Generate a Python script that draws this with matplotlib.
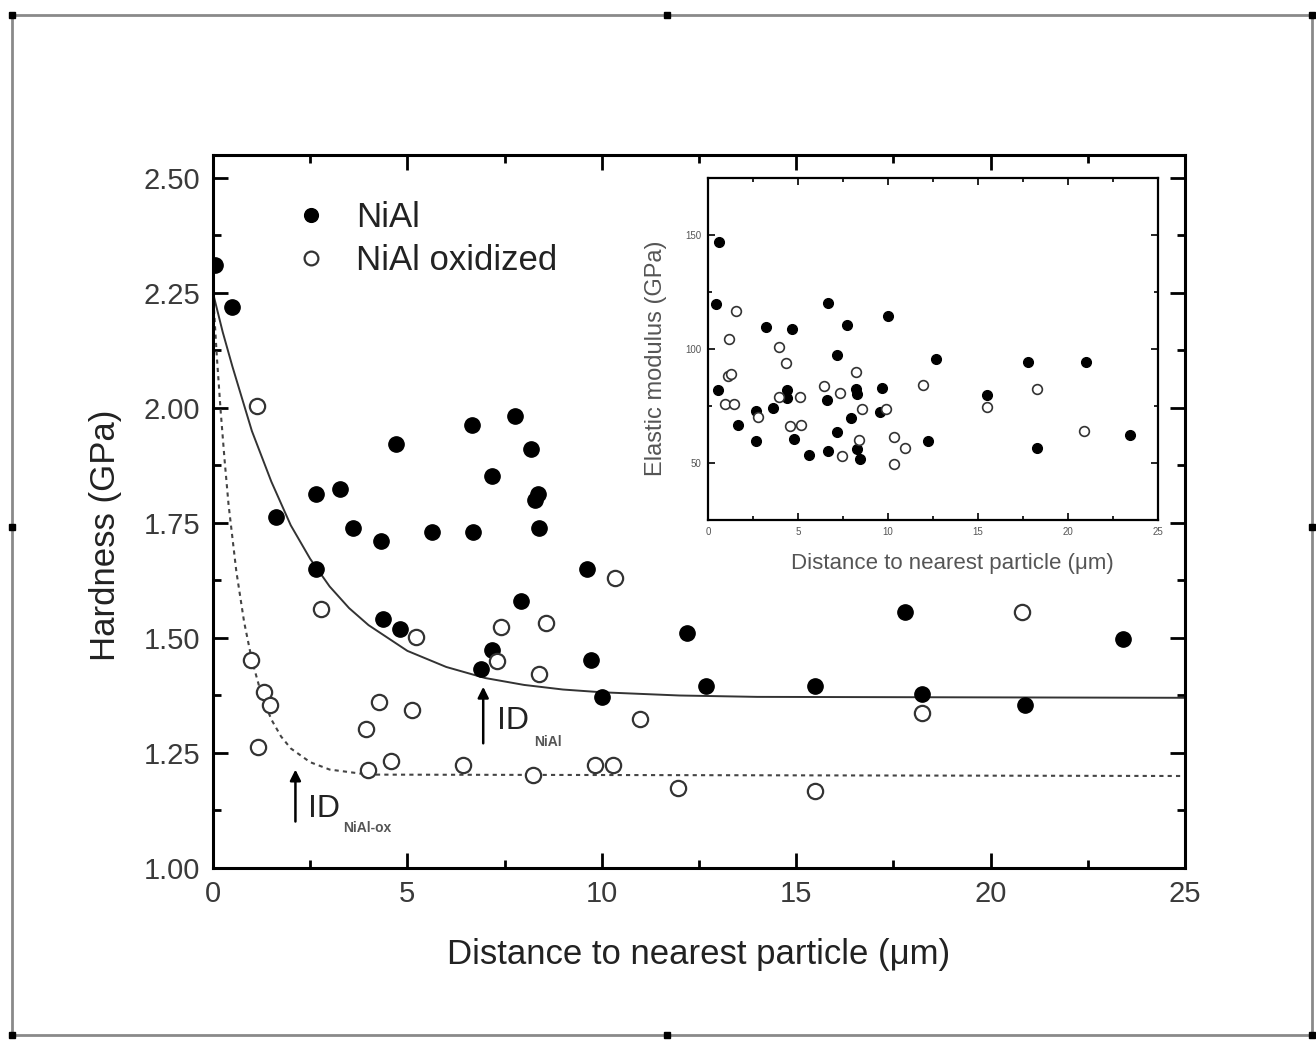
import matplotlib
matplotlib.use('Agg')
import matplotlib.pyplot as plt
from matplotlib.patches import Rectangle
from matplotlib.lines import Line2D
from matplotlib.ticker import MultipleLocator

plt.rcParams['font.family'] = ['Liberation Sans', 'DejaVu Sans']

# Hardness vs distance, NiAl (filled symbols)
niali_x = [0.05, 0.49, 1.63, 2.64, 2.66, 3.26, 3.59, 4.31, 4.36, 4.70, 4.82, 5.62,
           6.65, 6.68, 6.89, 7.18, 7.18, 7.77, 7.92, 8.18, 8.27, 8.37, 8.39, 9.61,
           9.72, 10.0, 12.19, 12.68, 15.48, 17.8, 18.23, 20.88, 23.4]
niali_h = [2.31, 2.22, 1.762, 1.651, 1.812, 1.823, 1.740, 1.711, 1.542, 1.921, 1.520, 1.731,
           1.962, 1.731, 1.433, 1.852, 1.473, 1.982, 1.581, 1.910, 1.801, 1.812, 1.740, 1.651,
           1.453, 1.372, 1.511, 1.396, 1.396, 1.557, 1.378, 1.354, 1.498]

# Hardness vs distance, NiAl oxidized (open symbols)
ox_x = [0.99, 1.12, 1.16, 1.31, 1.46, 2.77, 3.93, 3.99, 4.27, 4.57, 5.11, 5.21, 6.44,
        7.30, 7.42, 8.22, 8.39, 8.57, 9.83, 10.30, 10.33, 10.97, 11.95, 15.48, 18.23, 20.81]
ox_h = [1.453, 2.004, 1.262, 1.383, 1.354, 1.562, 1.302, 1.212, 1.361, 1.233, 1.343, 1.503, 1.224,
        1.451, 1.523, 1.202, 1.422, 1.532, 1.224, 1.224, 1.630, 1.323, 1.173, 1.167, 1.337, 1.557]

# fitted curves
fit_x = [0, 0.25, 0.5, 0.75, 1, 1.5, 2, 2.5, 3, 3.5, 4, 5, 6, 7, 8, 9, 10, 12, 14, 25]
fit_h = [2.25, 2.165, 2.09, 2.02, 1.95, 1.84, 1.745, 1.672, 1.612, 1.565, 1.528, 1.472,
         1.437, 1.413, 1.398, 1.388, 1.382, 1.375, 1.372, 1.37]
fitox_x = [0, 0.1, 0.2, 0.3, 0.4, 0.6, 0.8, 1.0, 1.25, 1.5, 1.75, 2.0, 2.5, 3.0, 4.0, 25]
fitox_h = [2.25, 2.11, 1.99, 1.885, 1.79, 1.645, 1.535, 1.452, 1.376, 1.323, 1.286, 1.26,
           1.23, 1.214, 1.203, 1.20]

# Inset: elastic modulus
e_niali_x = [0.44, 0.57, 0.61, 1.69, 2.68, 2.68, 3.22, 3.6, 4.37, 4.37, 4.69, 4.79, 5.6,
             6.61, 6.67, 6.67, 7.16, 7.16, 7.74, 7.95, 8.24, 8.28, 8.28, 8.43, 9.58, 9.69,
             10.0, 12.22, 12.68, 15.52, 17.78, 18.3, 20.98, 23.43]
e_niali = [119.9, 82.1, 146.8, 66.6, 59.6, 72.8, 109.6, 74.1, 82.1, 78.7, 108.8, 60.7, 53.7,
           77.5, 120.3, 55.4, 97.4, 63.8, 110.6, 69.6, 82.6, 80.1, 56.2, 51.8, 72.4, 83.1,
           114.3, 59.6, 95.6, 79.7, 94.1, 56.6, 94.1, 62.2]
e_ox_x = [0.92, 1.11, 1.15, 1.3, 1.44, 1.53, 2.78, 3.93, 3.93, 4.31, 4.56, 5.13, 5.17,
          6.42, 7.32, 7.43, 8.24, 8.39, 8.58, 9.87, 10.31, 10.31, 10.96, 11.97, 15.52, 18.3, 20.88]
e_ox = [75.7, 88.0, 104.4, 89.0, 75.7, 116.5, 70.3, 100.7, 79.1, 93.7, 66.2, 79.1, 66.6,
        83.8, 80.6, 52.9, 90.0, 60.3, 73.8, 73.9, 61.3, 49.6, 56.6, 84.1, 74.6, 82.4, 64.0]

W, H = 1316, 1041
fig = plt.figure(figsize=(W / 100, H / 100), dpi=100)

# outer frame of the original graph page
fig.add_artist(Rectangle((12 / W, 6 / H), 1300 / W, 1020 / H, transform=fig.transFigure,
                         fill=False, edgecolor='#8a8a8a', linewidth=2))
for fx, fy in [(12, 15), (667, 15), (1312, 15), (12, 527), (1312, 527),
               (12, 1035), (667, 1035), (1312, 1035)]:
    fig.add_artist(Line2D([fx / W], [1 - fy / H], transform=fig.transFigure,
                          marker='s', markersize=4, color='black', linestyle='none'))

tick_col = '#3a3a3a'

# ---- main plot ----
ax = fig.add_axes([213 / W, 1 - 868 / H, 972 / W, 713 / H])
ax.plot(fit_x, fit_h, color='#333333', linewidth=1.4, zorder=2)
ax.plot(fitox_x, fitox_h, color='#444444', linewidth=1.5, linestyle=(0, (2, 2)), zorder=2)
ax.plot(niali_x, niali_h, 'o', color='black', markersize=11, linestyle='none',
        label='NiAl', zorder=3)
ax.plot(ox_x, ox_h, 'o', markerfacecolor='white', markeredgecolor='#333333',
        markeredgewidth=1.6, markersize=11, linestyle='none', label='NiAl oxidized', zorder=3)

ax.set_xlim(0, 25)
ax.set_ylim(1.0, 2.55)
ax.xaxis.set_major_locator(MultipleLocator(5))
ax.xaxis.set_minor_locator(MultipleLocator(2.5))
ax.yaxis.set_major_locator(MultipleLocator(0.25))
ax.yaxis.set_minor_locator(MultipleLocator(0.125))
ax.yaxis.set_major_formatter(matplotlib.ticker.FormatStrFormatter('%.2f'))
ax.tick_params(which='both', direction='in', top=True, right=True, width=2,
               labelsize=21, labelcolor=tick_col, pad=9)
ax.tick_params(which='major', length=11)
ax.tick_params(which='minor', length=6)
for s in ax.spines.values():
    s.set_linewidth(2.2)

ax.set_xlabel('Distance to nearest particle (μm)', fontsize=25, color='#222222')
ax.set_ylabel('Hardness (GPa)', fontsize=25, color='#222222')
ax.xaxis.set_label_coords(0.5, -0.098)
ax.yaxis.set_label_coords(-0.094, 0.467)

leg = ax.legend(loc='upper left', bbox_to_anchor=(0.033, 0.979), frameon=False,
                fontsize=25, handletextpad=0.3, labelspacing=0.28, markerscale=0.9)
for t in leg.get_texts():
    t.set_color('#222222')

# ID arrows and labels
ax.annotate('', xy=(6.95, 1.40), xytext=(6.95, 1.265),
            arrowprops=dict(arrowstyle='-|>', color='black', lw=1.8, mutation_scale=16))
ax.text(7.3, 1.303, 'ID', fontsize=23, color='#222222', ha='left', va='baseline')
ax.text(8.25, 1.275, 'NiAl', fontsize=10, color='#555555', ha='left', va='center',
        fontweight='bold')
ax.annotate('', xy=(2.12, 1.22), xytext=(2.12, 1.095),
            arrowprops=dict(arrowstyle='-|>', color='black', lw=1.8, mutation_scale=16))
ax.text(2.45, 1.11, 'ID', fontsize=23, color='#222222', ha='left', va='baseline')
ax.text(3.35, 1.088, 'NiAl-ox', fontsize=10, color='#555555', ha='left', va='center',
        fontweight='bold')

# ---- inset ----
ins = fig.add_axes([708 / W, 1 - 520 / H, 450 / W, 342 / H])
ins.plot(e_niali_x, e_niali, 'o', color='black', markersize=7, linestyle='none')
ins.plot(e_ox_x, e_ox, 'o', markerfacecolor='white', markeredgecolor='#333333',
         markeredgewidth=1.2, markersize=7, linestyle='none')
ins.set_xlim(0, 25)
ins.set_ylim(25, 175)
ins.xaxis.set_major_locator(MultipleLocator(5))
ins.xaxis.set_minor_locator(MultipleLocator(2.5))
ins.yaxis.set_major_locator(MultipleLocator(50))
ins.yaxis.set_minor_locator(MultipleLocator(25))
ins.tick_params(which='both', direction='in', top=True, right=True, width=1.2,
                labelsize=7, labelcolor='#555555', pad=5)
ins.tick_params(which='major', length=5)
ins.tick_params(which='minor', length=3)
for s in ins.spines.values():
    s.set_linewidth(1.6)
ins.set_xlabel('Distance to nearest particle (μm)', fontsize=16, color='#555555')
ins.set_ylabel('Elastic modulus (GPa)', fontsize=17, color='#555555')
ins.xaxis.set_label_coords(0.544, -0.096)
ins.yaxis.set_label_coords(-0.091, 0.474)

fig.savefig('out.png', dpi=100)
